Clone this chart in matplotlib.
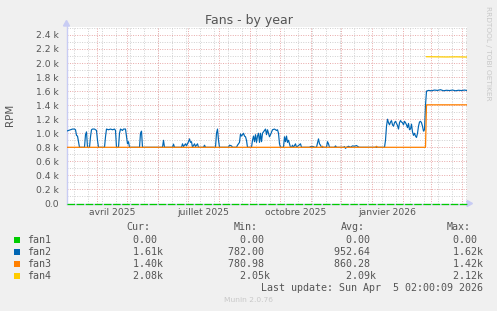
import datetime as dt
import matplotlib
matplotlib.use("Agg")
import matplotlib.pyplot as plt
from matplotlib.lines import Line2D
from matplotlib.patches import Rectangle, Polygon

# ---------------- data ----------------
start = dt.datetime(2025, 3, 1, 2, 0)
end = start + dt.timedelta(days=400)

fan1_day = [0, 400]
fan1_val = [0, 0]

# (day since start, RPM)
fan2_points = [
    (0, 1030), (2, 1040), (4, 1050), (6, 1060), (8, 1060), (9, 1050), (10, 970), (11, 960),
    (12, 880), (13, 800), (18, 800), (19, 980), (20, 1020), (21, 800), (23, 800), (24, 950),
    (25, 1050), (26, 1060), (28, 1060), (29, 1050), (30, 1040), (31, 900), (32, 800),
    (38, 800), (39, 950), (40, 1060), (42, 1050), (44, 1060), (46, 1050), (48, 1060),
    (49, 1040), (50, 800), (52, 800), (53, 1000), (54, 1060), (56, 1040), (57, 1060),
    (59, 1060), (60, 960), (61, 850), (62, 880), (63, 800), (73, 800), (74, 1000),
    (75, 1030), (76, 800), (96, 800), (97, 900), (98, 800), (106, 800), (107, 845),
    (108, 800), (115, 800), (116, 850), (117, 810), (119, 850), (120, 820), (122, 880),
    (123, 920), (124, 870), (125, 880), (126, 800), (128, 850), (129, 810), (131, 850),
    (132, 800), (137, 800), (138, 830), (139, 800), (149, 800), (150, 1000), (151, 1060),
    (152, 900), (153, 800), (162, 800), (163, 830), (165, 820), (166, 800), (170, 800),
    (171, 830), (173, 870), (174, 990), (175, 960), (176, 980), (177, 1000), (178, 960),
    (179, 950), (180, 900), (181, 800), (185, 800), (186, 900), (187, 960), (188, 880),
    (189, 980), (190, 870), (191, 960), (192, 1000), (193, 870), (194, 1000), (195, 880),
    (196, 1000), (198, 1040), (199, 1060), (200, 980), (201, 1050), (202, 1000), (203, 950),
    (204, 980), (206, 1050), (208, 1060), (210, 1040), (211, 1050), (212, 1000), (213, 850),
    (214, 800), (217, 800), (218, 950), (219, 880), (220, 960), (221, 870), (222, 900),
    (223, 850), (224, 800), (225, 800), (226, 830), (227, 800), (229, 850), (230, 800),
    (234, 850), (235, 800), (243, 800), (244, 810), (247, 810), (248, 800), (250, 800),
    (251, 860), (252, 920), (253, 850), (254, 830), (255, 800), (260, 800), (261, 880),
    (262, 850), (263, 800), (268, 800), (269, 820), (270, 800), (277, 800), (278, 810),
    (279, 785), (280, 800), (282, 815), (284, 800), (286, 820), (288, 815), (290, 825),
    (292, 805), (293, 800), (318, 800), (319, 900), (320, 1100), (321, 1200), (322, 1150),
    (323, 1120), (324, 1160), (325, 1180), (326, 1120), (327, 1100), (328, 1150),
    (329, 1170), (330, 1140), (331, 1110), (332, 1060), (333, 1150), (334, 1180),
    (335, 1160), (336, 1150), (337, 1120), (338, 1170), (339, 1150), (340, 1120),
    (341, 1080), (342, 1140), (343, 1050), (344, 1060), (345, 1130), (346, 1020), (347, 970),
    (348, 1000), (349, 960), (350, 940), (351, 1000), (352, 1100), (353, 1160), (354, 1170),
    (355, 1150), (356, 1100), (357, 1030), (358, 1050), (359, 1400), (360, 1600),
    (362, 1610), (365, 1605), (368, 1615), (371, 1610), (374, 1620), (377, 1605),
    (380, 1612), (383, 1608), (386, 1615), (389, 1605), (392, 1612), (395, 1608),
    (398, 1615), (400, 1610),
]

fan3_day = [0, 255, 256, 257, 309, 310, 311, 359, 360, 400]
fan3_val = [800, 800, 815, 800, 800, 815, 800, 800, 1405, 1405]

fan4_day = [360, 370, 380, 390, 400]
fan4_val = [2090, 2088, 2086, 2088, 2085]

series_names = ["fan1", "fan2", "fan3", "fan4"]
series_colors = ["#00CC00", "#0066B3", "#FF8000", "#FFCC00"]
cur_vals = ["  0.00 ", "  1.61k", "  1.40k", "  2.08k"]
min_vals = ["  0.00 ", "782.00 ", "780.98 ", "  2.05k"]
avg_vals = ["  0.00 ", "952.64 ", "860.28 ", "  2.09k"]
max_vals = ["  0.00 ", "  1.62k", "  1.42k", "  2.12k"]

month_labels = ["avril 2025", "juillet 2025", "octobre 2025", "janvier 2026"]
month_label_pos = [dt.datetime(2025, 4, 16), dt.datetime(2025, 7, 16),
                   dt.datetime(2025, 10, 16), dt.datetime(2026, 1, 16)]
ytick_vals = [0, 200, 400, 600, 800, 1000, 1200, 1400, 1600, 1800, 2000, 2200, 2400]
ytick_labels = ["0.0", "0.2 k", "0.4 k", "0.6 k", "0.8 k", "1.0 k", "1.2 k", "1.4 k",
                "1.6 k", "1.8 k", "2.0 k", "2.2 k", "2.4 k"]

# ---------------- figure ----------------
W, H = 497, 311
fig = plt.figure(figsize=(W / 100, H / 100), dpi=100, facecolor="#F0F0F0")


def fx(x):
    return x / W


def fy(y):
    return 1 - y / H


X0, X1, Y0, Y1 = 66.5, 466.5, 203.5, 26.5
ax = fig.add_axes([fx(X0), fy(Y0), (X1 - X0) / W, (Y0 - Y1) / H])
ax.set_facecolor("white")
ax.set_xlim(start, end)
ax.set_ylim(0, 2520)
for s in ax.spines.values():
    s.set_visible(False)

# grid
minor_c = "#D0D0D0"
major_c = "#E8A8A8"
for v in range(100, 2600, 100):
    if v % 200:
        ax.axhline(v, color=minor_c, lw=0.7, ls=(0, (1, 1.5)), zorder=0.5)
for v in ytick_vals[1:]:
    ax.axhline(v, color=major_c, lw=0.7, ls=(0, (1, 1.5)), zorder=0.6)
d = dt.datetime(2025, 3, 9)
while d < end:
    ax.axvline(d, color=minor_c, lw=0.7, ls=(0, (1, 1.5)), zorder=0.5)
    d += dt.timedelta(days=14)
for y, m in [(2025, m) for m in range(4, 13)] + [(2026, m) for m in range(1, 5)]:
    ax.axvline(dt.datetime(y, m, 1), color=major_c, lw=0.7, ls=(0, (1, 1.5)), zorder=0.6)


def to_dates(days):
    return [start + dt.timedelta(days=k) for k in days]


fan2_day = [p[0] for p in fan2_points]
fan2_val = [p[1] for p in fan2_points]

ax.plot(to_dates(fan1_day), fan1_val, color=series_colors[0], lw=0.9, dashes=(6, 1.3),
        zorder=3, clip_on=False)
ax.plot(to_dates(fan2_day), fan2_val, color=series_colors[1], lw=0.85, zorder=3.1)
ax.plot(to_dates(fan3_day), fan3_val, color=series_colors[2], lw=0.9, zorder=3.2)
ax.plot(to_dates(fan4_day), fan4_val, color=series_colors[3], lw=0.9, zorder=3.3)

ax.set_yticks(ytick_vals)
ax.set_yticklabels(ytick_labels)
ax.set_xticks(month_label_pos)
ax.set_xticklabels(month_labels)
ax.tick_params(axis="both", length=0, labelsize=6.6, colors="#555555")
ax.tick_params(axis="y", pad=5.5)
ax.tick_params(axis="x", pad=3.5)

# axis lines with arrows
ac = "#C8CCF4"
ax.add_artist(Line2D([fx(X0), fx(X0)], [fy(Y0), fy(24)], transform=fig.transFigure,
                     color=ac, lw=1, clip_on=False, zorder=2))
ax.add_artist(Line2D([fx(X0), fx(469)], [fy(Y0), fy(Y0)], transform=fig.transFigure,
                     color=ac, lw=1, clip_on=False, zorder=2))
ax.add_artist(Polygon([[fx(X0 - 3), fy(26)], [fx(X0 + 3), fy(26)], [fx(X0), fy(20.5)]],
                      closed=True, transform=fig.transFigure, color=ac, clip_on=False, zorder=2))
ax.add_artist(Polygon([[fx(467), fy(Y0 - 3)], [fx(467), fy(Y0 + 3)], [fx(472.5), fy(Y0)]],
                      closed=True, transform=fig.transFigure, color=ac, clip_on=False, zorder=2))

# texts
tc = "#555555"
fig.text(fx(248.5), fy(24), "Fans - by year", ha="center", va="baseline", fontsize=9,
         color=tc)
fig.text(fx(10), fy(115), "RPM", rotation=90, ha="center", va="center", fontsize=7.5,
         color=tc)
fig.text(fx(488), fy(53), "RRDTOOL / TOBI OETIKER", rotation=270, ha="center", va="center",
         fontsize=5.3, color="#C8C8C8")

mono = dict(family="DejaVu Sans Mono", fontsize=7.2, color=tc, va="center")
fig.text(fx(126.7), fy(227.3), "Cur:", ha="left", **mono)
fig.text(fx(233.3), fy(227.3), "Min:", ha="left", **mono)
fig.text(fx(340.7), fy(227.3), "Avg:", ha="left", **mono)
fig.text(fx(446.7), fy(227.3), "Max:", ha="left", **mono)
for i, name in enumerate(series_names):
    yc = 239.7 + 12 * i
    fig.add_artist(Rectangle((fx(14), fy(yc + 3)), 6 / W, 6 / H, transform=fig.transFigure,
                             facecolor=series_colors[i], edgecolor="none"))
    fig.text(fx(26.7), fy(yc), name, ha="left", **mono)
    fig.text(fx(120.7), fy(yc), cur_vals[i], ha="left", **mono)
    fig.text(fx(227.7), fy(yc), min_vals[i], ha="left", **mono)
    fig.text(fx(334.5), fy(yc), avg_vals[i], ha="left", **mono)
    fig.text(fx(441.3), fy(yc), max_vals[i], ha="left", **mono)
fig.text(fx(483), fy(287.7), "Last update: Sun Apr  5 02:00:09 2026", ha="right", **mono)
fig.text(fx(248), fy(300.5), "Munin 2.0.76", ha="center", va="center", fontsize=5.4,
         color="#C8C8C8")

fig.savefig("out.png", dpi=100, facecolor=fig.get_facecolor())
